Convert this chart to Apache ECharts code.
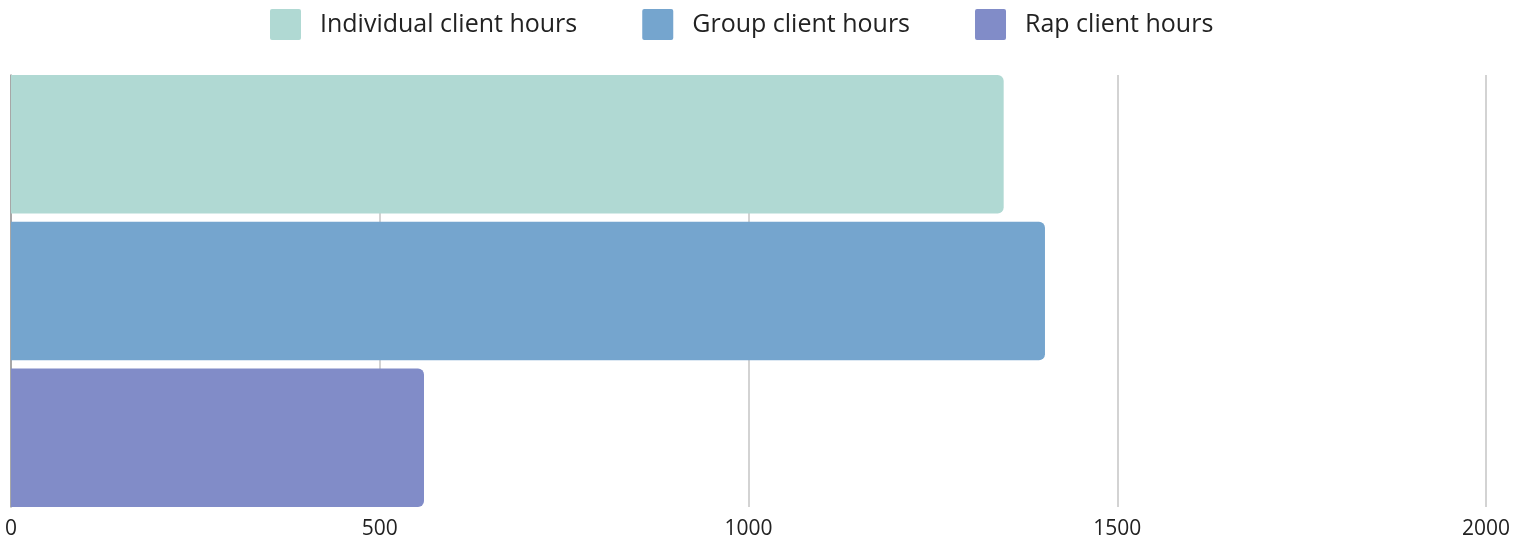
<!DOCTYPE html>
<html lang="en">
<head>
  <meta charset="UTF-8">
  <title>Client hours</title>
  <script src="https://cdn.jsdelivr.net/npm/echarts@6/dist/echarts.min.js"></script>
  <style>
    html, body { margin: 0; padding: 0; background: #fff; }
    #chart { width: 1527px; height: 552px; }
  </style>
</head>
<body>
<div id="chart"></div>
<script>
  // data
  const seriesNames = ['Individual client hours', 'Group client hours', 'Rap client hours'];
  const seriesValues = [1346, 1402, 560];
  const seriesColors = ['#b0d9d3', '#75a5ce', '#818cc8'];
  const categories = ['Hours'];
  const xTicks = [0, 500, 1000, 1500, 2000];

  const font = '"Open Sans", Lato, sans-serif';

  const chart = echarts.init(document.getElementById('chart'));

  const series = seriesNames.map((name, i) => ({
    name: name,
    type: 'bar',
    data: [seriesValues[i]],
    barGap: '6%',
    barCategoryGap: 0,
    itemStyle: { color: seriesColors[i], borderRadius: [0, 6, 6, 0] }
  }));

  chart.setOption({
    animation: false,
    legend: {
      top: 4,
      left: 265,
      itemWidth: 31,
      itemHeight: 31,
      itemGap: 65,
      textStyle: { fontFamily: font, fontSize: 25, color: '#222', padding: [0, 0, 0, 14] },
      data: seriesNames.map(n => ({ name: n, icon: 'path://M2,0H29A2,2 0 0 1 31,2V29A2,2 0 0 1 29,31H2A2,2 0 0 1 0,29V2A2,2 0 0 1 2,0Z' }))
    },
    grid: { left: 11, right: 41, top: 75, bottom: 45, containLabel: false },
    xAxis: {
      type: 'value',
      min: xTicks[0],
      max: xTicks[xTicks.length - 1],
      interval: 500,
      axisLine: { show: false },
      axisTick: { show: false },
      splitLine: { show: true, lineStyle: { color: '#c4c4c4', width: 1.5 } },
      axisLabel: {
        margin: 12,
        fontFamily: font,
        fontSize: 21,
        color: '#222',
        formatter: v => String(v)
      }
    },
    yAxis: {
      type: 'category',
      inverse: true,
      data: categories,
      axisLine: { show: true, lineStyle: { color: '#999', width: 1.5 } },
      axisTick: { show: false },
      axisLabel: { show: false }
    },
    series: series
  });
</script>
</body>
</html>
